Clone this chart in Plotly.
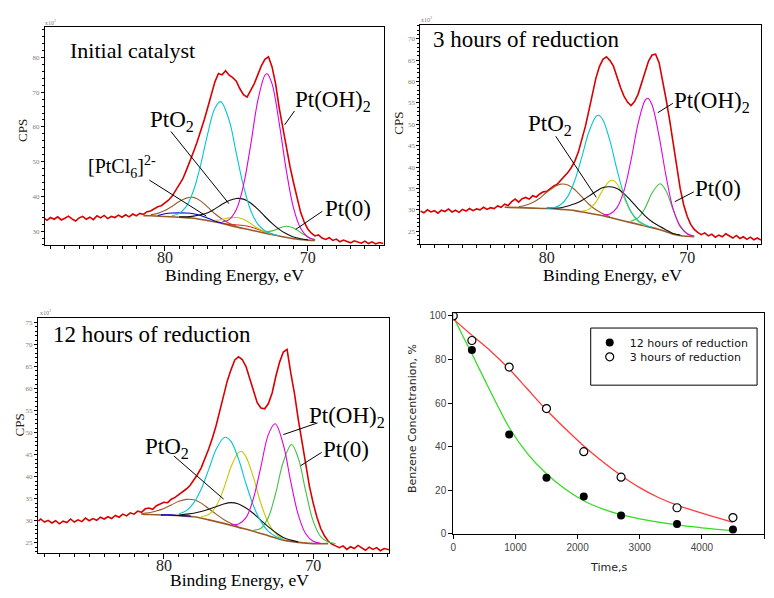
import plotly.graph_objects as go

W, H = 774, 598

# ---------------- Panel 1: Initial catalyst ----------------
p1_energy = [88.4, 88.25, 88.0, 87.75, 87.5, 87.25, 87.0, 86.75, 86.5, 86.25, 86.0, 85.75, 85.5, 85.25, 85.0,
             84.75, 84.5, 84.25, 84.0, 83.75, 83.5, 83.25, 83.0, 82.75, 82.5, 82.25, 82.0, 81.75, 81.5, 81.25,
             81.0, 80.75, 80.5, 80.25, 80.0, 79.75, 79.5, 79.25, 79.0, 78.75, 78.5, 78.25, 78.0, 77.75, 77.5,
             77.25, 77.0, 76.75, 76.5, 76.25, 76.0, 75.75, 75.5, 75.25, 75.0, 74.75, 74.5, 74.25, 74.0, 73.75,
             73.5, 73.25, 73.0, 72.75, 72.5, 72.25, 72.0, 71.75, 71.5, 71.25, 71.0, 70.75, 70.5, 70.25, 70.0,
             69.75, 69.5, 69.25, 69.0, 68.75, 68.5, 68.25, 68.0, 67.75, 67.5, 67.25, 67.0, 66.75, 66.5, 66.25,
             66.0, 65.75, 65.5, 65.25, 65.0, 64.7]
p1_counts = [33.6, 33.1, 33.9, 33.4, 34.1, 33.2, 33.7, 34.3, 33.5, 32.9, 33.8, 34.2, 33.4, 34.0, 33.3,
             34.4, 33.8, 34.5, 33.6, 34.2, 33.9, 34.6, 34.0, 34.7, 34.1, 34.9, 34.4, 35.1, 34.8, 35.6,
             35.8, 36.4, 37.0, 37.3, 38.1, 38.9, 40.0, 41.6, 43.3, 45.0, 47.5, 50.0, 52.8, 55.6, 58.5,
             62.0, 65.6, 69.5, 73.0, 75.4, 75.0, 76.2, 74.9, 74.2, 73.2, 71.0, 69.3, 68.6, 70.3, 72.4,
             75.0, 77.6, 79.5, 80.2, 77.3, 72.4, 65.5, 59.5, 54.0, 48.7, 44.0, 39.3, 35.4, 32.6, 30.6,
             29.4, 28.6, 28.9, 28.0, 27.6, 28.1, 27.3, 27.7, 26.9, 27.4, 27.0, 26.6, 27.2, 26.8, 26.5,
             27.1, 26.4, 26.9, 26.3, 26.7, 26.4]
p1_bg_e = [81.5, 81.0, 80.0, 79.0, 78.0, 77.0, 76.0, 75.0, 74.0, 73.0, 72.0, 71.0, 70.0, 69.5]
p1_bg = [34.45, 34.4, 34.2, 34.0, 33.7, 33.0, 32.2, 31.2, 30.3, 29.4, 28.6, 27.8, 27.4, 27.3]
p1_cyan_e = [79.5, 79.0, 78.5, 78.0, 77.5, 77.0, 76.5, 76.1, 75.5, 75.0, 74.5, 74.0, 73.5, 73.0, 72.5, 72.0]
p1_cyan = [34.4, 35.1, 37.1, 41.6, 49.0, 58.1, 65.4, 67.3, 61.9, 52.4, 43.0, 36.0, 32.0, 30.1, 29.2, 28.6]
p1_magenta_e = [76.0, 75.5, 75.0, 74.5, 74.0, 73.5, 73.0, 72.85, 72.5, 72.0, 71.5, 71.0, 70.5, 70.0, 69.5]
p1_magenta = [32.6, 33.3, 36.2, 43.2, 54.7, 67.5, 74.9, 75.3, 72.4, 61.1, 47.4, 36.7, 30.8, 28.3, 27.5]
p1_black_e = [79.0, 78.5, 78.0, 77.5, 77.0, 76.5, 76.0, 75.5, 75.0, 74.5, 74.0, 73.5, 73.0, 72.5, 72.0,
              71.5, 71.0, 70.5, 70.0]
p1_black = [34.1, 34.1, 34.3, 34.7, 35.3, 36.4, 37.7, 38.8, 39.4, 39.2, 38.1, 36.3, 34.2, 32.2, 30.5,
            29.2, 28.3, 27.8, 27.5]
p1_brown_e = [81.0, 80.5, 80.0, 79.5, 79.0, 78.5, 78.0, 77.5, 77.0, 76.5, 76.0, 75.5, 75.0]
p1_brown = [34.7, 35.1, 35.9, 37.1, 38.5, 39.5, 39.7, 38.7, 36.9, 35.0, 33.5, 32.25, 31.4]
p1_yellow_e = [76.5, 76.0, 75.5, 75.0, 74.5, 74.0, 73.5, 73.0, 72.5]
p1_yellow = [33.1, 33.35, 33.8, 33.9, 33.4, 32.2, 30.8, 29.8, 29.1]
p1_green_e = [73.0, 72.5, 72.0, 71.5, 71.0, 70.5, 70.0, 69.5]
p1_green = [29.75, 30.05, 30.85, 31.4, 30.9, 29.6, 28.3, 27.55]
p1_blue_e = [80.5, 80.0, 79.5, 79.0, 78.5, 78.0, 77.5, 77.0, 76.5, 76.0]
p1_blue = [34.5, 35.0, 35.2, 35.25, 35.2, 35.0, 34.5, 33.7, 32.9, 32.3]
p1_redc_e = [76.0, 75.5, 75.0, 74.5, 74.0, 73.5, 73.0, 72.5]
p1_redc = [32.3, 31.95, 31.8, 31.6, 31.2, 30.5, 29.8, 29.1]

# ---------------- Panel 2: 3 hours of reduction ----------------
p2_energy = [89.0, 88.75, 88.5, 88.25, 88.0, 87.75, 87.5, 87.25, 87.0, 86.75, 86.5, 86.25, 86.0, 85.75, 85.5,
             85.25, 85.0, 84.75, 84.5, 84.25, 84.0, 83.75, 83.5, 83.25, 83.0, 82.75, 82.5, 82.25, 82.0, 81.75,
             81.5, 81.25, 81.0, 80.75, 80.5, 80.25, 80.0, 79.75, 79.5, 79.25, 79.0, 78.75, 78.5, 78.25, 78.0,
             77.75, 77.5, 77.25, 77.0, 76.75, 76.5, 76.25, 76.0, 75.75, 75.5, 75.25, 75.0, 74.75, 74.5, 74.25,
             74.0, 73.75, 73.5, 73.25, 73.0, 72.75, 72.5, 72.25, 72.0, 71.75, 71.5, 71.25, 71.0, 70.75, 70.5,
             70.25, 70.0, 69.75, 69.5, 69.25, 69.0, 68.75, 68.5, 68.25, 68.0, 67.75, 67.5, 67.25, 67.0, 66.75,
             66.5, 66.25, 66.0, 65.75, 65.5, 65.25, 65.0, 64.75]
p2_counts = [29.7, 29.3, 30.0, 29.5, 29.8, 29.2, 29.9, 29.6, 30.2, 29.5, 29.9, 29.4, 30.1, 29.7, 30.3,
             29.8, 30.2, 30.0, 30.6, 30.1, 30.5, 30.3, 30.9, 30.6, 31.3, 31.0, 31.9, 32.5, 31.8, 32.6,
             32.9, 32.5, 33.3, 33.0, 33.7, 34.2, 34.3, 35.0, 35.6, 36.0, 36.9, 37.6, 38.7, 39.9, 41.4,
             43.5, 46.2, 49.5, 53.2, 57.2, 60.8, 63.5, 65.2, 65.8, 64.9, 63.6, 61.0, 58.6, 56.6, 55.2,
             54.4, 55.3, 57.0, 59.5, 62.3, 64.8, 66.2, 66.4, 64.4, 60.5, 55.8, 51.0, 45.8, 40.3, 35.0,
             31.2, 28.5, 26.6, 25.4, 24.7, 24.2, 24.6, 23.9, 24.3, 23.6, 24.1, 23.7, 24.4, 23.8, 23.4,
             24.0, 23.3, 23.7, 23.1, 23.6, 23.0, 23.4, 22.9]
p2_bg_e = [83.0, 82.0, 81.0, 80.0, 79.0, 78.0, 77.0, 76.0, 75.0, 74.0, 73.0, 72.0, 71.0, 70.0, 69.5]
p2_bg = [30.6, 30.5, 30.4, 30.3, 30.1, 29.8, 29.2, 28.6, 27.8, 27.0, 26.2, 25.4, 24.3, 23.8, 23.7]
p2_cyan_e = [80.0, 79.5, 79.0, 78.5, 78.0, 77.5, 77.0, 76.5, 76.3, 76.0, 75.5, 75.0, 74.5, 74.0, 73.5, 73.0, 72.5]
p2_cyan = [30.4, 30.5, 31.25, 33.15, 36.9, 42.4, 48.2, 51.8, 52.1, 51.0, 46.1, 39.4, 33.5, 29.6, 27.5, 26.5, 25.9]
p2_magenta_e = [76.0, 75.5, 75.0, 74.5, 74.0, 73.5, 73.0, 72.8, 72.5, 72.0, 71.5, 71.0, 70.5, 70.0, 69.5]
p2_magenta = [28.8, 29.0, 30.5, 34.5, 41.6, 50.1, 55.6, 56.1, 54.5, 47.2, 37.8, 30.2, 26.1, 24.4, 23.8]
p2_yellow_e = [77.5, 77.0, 76.5, 76.0, 75.5, 75.3, 75.0, 74.5, 74.0, 73.5, 73.0]
p2_yellow = [29.7, 30.1, 31.8, 34.7, 36.8, 36.9, 36.1, 32.8, 29.4, 27.3, 26.3]
p2_black_e = [80.0, 79.5, 79.0, 78.5, 78.0, 77.5, 77.0, 76.5, 76.0, 75.5, 75.0, 74.5, 74.0, 73.5, 73.0,
              72.5, 72.0, 71.5, 71.0, 70.5]
p2_black = [30.4, 30.4, 30.5, 30.9, 31.4, 32.2, 33.2, 34.3, 35.2, 35.4, 35.0, 33.8, 32.1, 30.3, 28.6,
            27.2, 26.2, 25.3, 24.45, 24.1]
p2_brown_e = [82.0, 81.5, 81.0, 80.5, 80.0, 79.5, 79.0, 78.5, 78.0, 77.5, 77.0, 76.5, 76.0, 75.5]
p2_brown = [30.7, 31.05, 31.7, 32.7, 34.1, 35.3, 36.0, 35.8, 34.7, 33.0, 31.3, 30.0, 29.1, 28.4]
p2_green_e = [74.0, 73.5, 73.0, 72.5, 72.0, 71.9, 71.5, 71.0, 70.5, 70.0, 69.5]
p2_green = [27.35, 28.1, 30.4, 33.95, 36.0, 36.1, 34.4, 30.0, 26.3, 24.4, 23.8]

# ---------------- Panel 3: 12 hours of reduction ----------------
p3_energy = [88.4, 88.25, 88.0, 87.75, 87.5, 87.25, 87.0, 86.75, 86.5, 86.25, 86.0, 85.75, 85.5, 85.25, 85.0,
             84.75, 84.5, 84.25, 84.0, 83.75, 83.5, 83.25, 83.0, 82.75, 82.5, 82.25, 82.0, 81.75, 81.5, 81.25,
             81.0, 80.75, 80.5, 80.25, 80.0, 79.75, 79.5, 79.25, 79.0, 78.75, 78.5, 78.25, 78.0, 77.75, 77.5,
             77.25, 77.0, 76.75, 76.5, 76.25, 76.0, 75.75, 75.5, 75.25, 75.0, 74.75, 74.5, 74.25, 74.0, 73.75,
             73.5, 73.25, 73.0, 72.75, 72.5, 72.25, 72.0, 71.75, 71.5, 71.25, 71.0, 70.75, 70.5, 70.25, 70.0,
             69.75, 69.5, 69.25, 69.0, 68.75, 68.5, 68.25, 68.0, 67.75, 67.5, 67.25, 67.0, 66.75, 66.5, 66.25,
             66.0, 65.75, 65.5, 65.25, 64.9]
p3_counts = [29.9, 30.4, 29.7, 30.1, 29.5, 30.0, 29.3, 29.9, 29.6, 30.4, 29.7, 30.2, 29.8, 30.6, 30.0,
             30.5, 30.1, 30.8, 30.4, 30.9, 30.5, 31.2, 30.8, 31.5, 31.1, 31.8, 31.5, 32.2, 31.9, 32.7,
             32.9, 32.6, 33.4, 33.9, 34.2, 34.1, 34.9, 35.3, 35.9, 36.4, 37.2, 38.0, 39.2, 40.5, 42.0,
             44.0, 46.3, 48.8, 51.6, 55.0, 58.5, 61.8, 64.3, 66.5, 67.2, 66.6, 65.0, 62.3, 59.2, 56.8,
             55.6, 55.4, 56.6, 59.0, 62.8, 66.0, 68.3, 68.9, 63.5, 58.8, 53.0, 47.6, 42.5, 37.8, 34.0,
             30.8, 28.3, 26.6, 25.4, 24.7, 24.3, 23.9, 24.3, 23.5, 24.1, 23.7, 24.4, 23.8, 23.3, 24.0,
             23.5, 23.9, 23.2, 23.7, 23.4]
p3_bg_e = [81.5, 81.0, 80.0, 79.0, 78.0, 77.0, 76.0, 75.0, 74.0, 73.0, 72.0, 71.0, 70.0, 69.0]
p3_bg = [31.5, 31.4, 31.3, 31.15, 30.9, 30.2, 29.4, 28.5, 27.6, 26.6, 25.6, 25.1, 24.8, 24.8]
p3_cyan_e = [79.0, 78.5, 78.0, 77.5, 77.0, 76.5, 76.0, 75.8, 75.5, 75.0, 74.5, 74.0, 73.5, 73.0, 72.5, 72.0]
p3_cyan = [31.55, 32.3, 34.05, 37.2, 41.6, 46.2, 48.8, 48.9, 48.0, 44.0, 38.4, 33.4, 29.8, 27.6, 26.4, 25.7]
p3_yellow_e = [77.5, 77.0, 76.5, 76.0, 75.5, 75.0, 74.8, 74.5, 74.0, 73.5, 73.0, 72.5, 72.0]
p3_yellow = [30.9, 31.4, 33.3, 37.2, 42.25, 45.5, 45.7, 44.5, 39.8, 33.9, 29.5, 27.0, 25.8]
p3_black_e = [79.0, 78.5, 78.0, 77.5, 77.0, 76.5, 76.0, 75.5, 75.0, 74.5, 74.0, 73.5, 73.0, 72.5, 72.0, 71.5, 71.0]
p3_black = [31.3, 31.5, 31.7, 32.1, 32.6, 33.2, 33.8, 34.1, 33.8, 32.9, 31.65, 30.1, 28.6, 27.3, 26.2, 25.6, 25.2]
p3_brown_e = [81.5, 81.0, 80.5, 80.0, 79.5, 79.0, 78.5, 78.0, 77.5, 77.0, 76.5, 76.0, 75.5, 75.0]
p3_brown = [31.65, 31.8, 32.2, 32.8, 33.6, 34.4, 34.85, 34.75, 34.0, 32.75, 31.5, 30.3, 29.4, 28.7]
p3_magenta_e = [75.5, 75.0, 74.5, 74.0, 73.5, 73.0, 72.55, 72.0, 71.5, 71.0, 70.5, 70.0, 69.5]
p3_magenta = [29.1, 29.25, 30.7, 35.1, 42.3, 49.6, 52.0, 47.25, 38.8, 31.35, 27.05, 25.35, 24.9]
p3_green_e = [74.0, 73.5, 73.0, 72.5, 72.0, 71.45, 71.0, 70.5, 70.0, 69.5, 69.0, 68.5]
p3_green = [27.85, 28.3, 30.8, 36.4, 43.4, 47.3, 44.2, 36.7, 29.9, 26.4, 25.15, 24.85]
p3_blue_e = [80.2, 79.5, 79.0, 78.5, 78.2]
p3_blue = [31.3, 31.3, 31.2, 31.1, 31.05]

# ---------------- Panel 4: benzene conversion ----------------
time_s = [0, 300, 900, 1500, 2100, 2700, 3600, 4500]
conc_12h = [100, 84.3, 45.6, 25.8, 17.1, 8.4, 4.5, 2.0]
conc_3h = [100, 88.7, 76.5, 57.5, 37.7, 26.0, 12.0, 7.5]
fit12_t = [0, 150, 300, 500, 700, 900, 1200, 1500, 1800, 2100, 2400, 2700, 3000, 3600, 4000, 4500]
fit12_c = [99.7, 91.0, 82.6, 71.0, 59.6, 48.8, 36.6, 27.6, 20.6, 15.2, 11.5, 8.8, 6.9, 4.1, 2.8, 1.5]
fit3_t = [0, 300, 600, 900, 1200, 1500, 1800, 2100, 2400, 2700, 3000, 3300, 3600, 4000, 4500]
fit3_c = [98.6, 91.1, 83.9, 75.6, 66.2, 56.8, 48.3, 40.3, 33.2, 26.8, 21.2, 16.7, 13.2, 9.5, 5.3]

# ---------------- styles ----------------
RED = '#d80000'
CYAN = '#00c8d0'
MAGENTA = '#e000e0'
BLACK = '#101010'
BROWN = '#9a5a28'
YELLOW = '#c8c800'
GREEN = '#40c040'
BLUE = '#0000d0'
SERIF = 'Liberation Serif'

fig = go.Figure()


def line(x, y, color, width, ax, shape='spline'):
    xa = 'x' if ax == 1 else 'x%d' % ax
    ya = 'y' if ax == 1 else 'y%d' % ax
    fig.add_trace(go.Scatter(x=x, y=y, mode='lines', xaxis=xa, yaxis=ya, showlegend=False,
                             hoverinfo='skip', line=dict(color=color, width=width, shape=shape)))


# panel 1
line(p1_energy, p1_counts, RED, 1.6, 1, 'linear')
line(p1_bg_e, p1_bg, BROWN, 1.6, 1)
line(p1_blue_e, p1_blue, BLUE, 1.1, 1)
line(p1_redc_e, p1_redc, RED, 0.9, 1)
line(p1_brown_e, p1_brown, BROWN, 1.1, 1)
line(p1_yellow_e, p1_yellow, YELLOW, 1.1, 1)
line(p1_green_e, p1_green, GREEN, 1.1, 1)
line(p1_black_e, p1_black, BLACK, 1.1, 1)
line(p1_cyan_e, p1_cyan, CYAN, 1.1, 1)
line(p1_magenta_e, p1_magenta, MAGENTA, 1.1, 1)
# panel 2
line(p2_energy, p2_counts, RED, 1.6, 2, 'linear')
line(p2_bg_e, p2_bg, BROWN, 1.6, 2)
line(p2_brown_e, p2_brown, BROWN, 1.1, 2)
line(p2_yellow_e, p2_yellow, YELLOW, 1.1, 2)
line(p2_green_e, p2_green, GREEN, 1.1, 2)
line(p2_black_e, p2_black, BLACK, 1.1, 2)
line(p2_cyan_e, p2_cyan, CYAN, 1.1, 2)
line(p2_magenta_e, p2_magenta, MAGENTA, 1.1, 2)
# panel 3
line(p3_energy, p3_counts, RED, 1.6, 3, 'linear')
line(p3_bg_e, p3_bg, BROWN, 1.6, 3)
line(p3_blue_e, p3_blue, BLUE, 1.3, 3)
line(p3_brown_e, p3_brown, BROWN, 1.1, 3)
line(p3_yellow_e, p3_yellow, YELLOW, 1.1, 3)
line(p3_green_e, p3_green, GREEN, 1.1, 3)
line(p3_black_e, p3_black, BLACK, 1.1, 3)
line(p3_cyan_e, p3_cyan, CYAN, 1.1, 3)
line(p3_magenta_e, p3_magenta, MAGENTA, 1.1, 3)
# panel 4
line(fit12_t, fit12_c, '#33dd22', 1.3, 4)
line(fit3_t, fit3_c, '#ff3b3b', 1.3, 4)
fig.add_trace(go.Scatter(x=time_s, y=conc_12h, mode='markers', xaxis='x4', yaxis='y4',
                         name='12 hours of reduction', legend='legend',
                         marker=dict(symbol='circle', size=8, color='black')))
fig.add_trace(go.Scatter(x=time_s, y=conc_3h, mode='markers', xaxis='x4', yaxis='y4',
                         name='3 hours of reduction', legend='legend2',
                         marker=dict(symbol='circle', size=8, color='white',
                                     line=dict(color='black', width=1.2))))


def px(v):
    return v / W


def py(v):
    return 1 - v / H


def xps_x(dom, rng):
    return dict(domain=dom, range=rng, showline=True, mirror=True, linecolor='black', linewidth=1,
                ticks='outside', tickvals=[80, 70], ticklen=5, tickcolor='black',
                ticklabelstandoff=-7,
                tickfont=dict(family=SERIF, size=16, color='#222'),
                minor=dict(dtick=1, tick0=0, ticks='outside', ticklen=3, tickcolor='black'),
                showgrid=False, zeroline=False, fixedrange=True)


def xps_y(dom, rng, dt, mdt):
    return dict(domain=dom, range=rng, showline=True, mirror=True, linecolor='black', linewidth=1,
                ticks='outside', dtick=dt, tick0=0, ticklen=3, tickcolor='black',
                tickfont=dict(family=SERIF, size=7, color='#8c7b70'),
                minor=dict(dtick=mdt, tick0=0, ticks='outside', ticklen=2, tickcolor='black'),
                showgrid=False, zeroline=False, fixedrange=True)


LEG_FONT = dict(family='DejaVu Sans', size=11, color='#111')

fig.update_layout(
    width=W, height=H, margin=dict(l=0, r=0, t=0, b=0),
    paper_bgcolor='white', plot_bgcolor='white', showlegend=True,
    xaxis=dict(xps_x([px(42), px(382)], [88.4, 64.7]), anchor='y'),
    yaxis=dict(xps_y([py(246), py(24)], [25.9, 88.9], 10, 2), anchor='x'),
    xaxis2=dict(xps_x([px(419), px(761)], [89.0, 64.74]), anchor='y2'),
    yaxis2=dict(xps_y([py(245), py(22)], [21.93, 73.3], 5, 1), anchor='x2'),
    xaxis3=dict(xps_x([px(35), px(388)], [88.44, 64.89]), anchor='y3'),
    yaxis3=dict(xps_y([py(558), py(320)], [22.77, 75.97], 5, 1), anchor='x3'),
    xaxis4=dict(domain=[px(452), px(764)], range=[0, 5000], dtick=1000, anchor='y4',
                showline=True, mirror=True, linecolor='black', linewidth=1, ticks='outside',
                ticklen=4, tickcolor='black', showgrid=False, zeroline=False,
                tickfont=dict(family='Liberation Sans', size=10, color='#444')),
    yaxis4=dict(domain=[py(539), py(315)], range=[0, 101.2], dtick=20, anchor='x4',
                showline=True, mirror=True, linecolor='black', linewidth=1, ticks='outside',
                ticklen=4, tickcolor='black', showgrid=False, zeroline=False,
                tickfont=dict(family='Liberation Sans', size=10, color='#444')),
    legend=dict(x=px(589), y=py(330), xanchor='left', yanchor='top', bgcolor='rgba(0,0,0,0)',
                borderwidth=0, font=LEG_FONT),
    legend2=dict(x=px(589), y=py(344.5), xanchor='left', yanchor='top', bgcolor='rgba(0,0,0,0)',
                 borderwidth=0, font=LEG_FONT),
)

# legend frame
fig.add_shape(type='rect', xref='paper', yref='paper', x0=px(590), x1=px(757), y0=py(388), y1=py(330),
              line=dict(color='black', width=1), fillcolor='rgba(0,0,0,0)')

ann = []


def label(text, x, y, ax, size=22, anchor='left'):
    xa = 'x' if ax == 1 else 'x%d' % ax
    ya = 'y' if ax == 1 else 'y%d' % ax
    ann.append(dict(text=text, x=x, y=y, xref=xa, yref=ya, xanchor=anchor, yanchor='middle',
                    showarrow=False, font=dict(family=SERIF, size=size, color='black')))


def leader(x0, y0, x1, y1, ax):
    xa = 'x' if ax == 1 else 'x%d' % ax
    ya = 'y' if ax == 1 else 'y%d' % ax
    fig.add_shape(type='line', xref=xa, yref=ya, x0=x0, y0=y0, x1=x1, y1=y1,
                  line=dict(color='black', width=1))


# panel 1 labels
label('Initial catalyst', 82.27, 82.1, 1, 22, 'center')
label('Pt(OH)<sub>2</sub>', 71.0, 67.4, 1, 23)
label('PtO<sub>2</sub>', 81.2, 61.7, 1, 23)
label('[PtCl<sub>6</sub>]<sup>2-</sup>', 85.5, 48.6, 1, 20)
label('Pt(0)', 68.9, 36.6, 1, 23)
leader(70.93, 64.6, 71.62, 60.6, 1)
leader(79.58, 58.7, 75.52, 37.9, 1)
leader(81.09, 44.7, 77.1, 34.3, 1)
leader(68.98, 35.7, 70.84, 30.5, 1)
# panel 2 labels
label('3 hours of reduction', 88.25, 69.86, 2, 23)
label('Pt(OH)<sub>2</sub>', 71.1, 55.3, 2, 23)
label('PtO<sub>2</sub>', 81.45, 49.9, 2, 23)
label('Pt(0)', 69.6, 34.97, 2, 23)
leader(71.02, 54.9, 72.1, 52.7, 2)
leader(79.36, 47.2, 76.47, 32.9, 2)
leader(69.53, 34.2, 70.88, 31.9, 2)
# panel 3 labels
label('12 hours of reduction', 87.56, 72.25, 3, 23)
label('Pt(OH)<sub>2</sub>', 70.4, 53.6, 3, 23)
label('Pt(0)', 69.5, 46.2, 3, 23)
label('PtO<sub>2</sub>', 81.4, 46.6, 3, 23)
leader(69.71, 52.2, 72.0, 49.55, 3)
leader(69.44, 45.5, 70.84, 42.5, 3)
leader(79.33, 44.7, 76.0, 34.9, 3)


def ptext(text, x, y, size, family=SERIF, angle=0, color='black'):
    ann.append(dict(text=text, x=px(x), y=py(y), xref='paper', yref='paper', xanchor='center',
                    yanchor='middle', showarrow=False, textangle=angle,
                    font=dict(family=family, size=size, color=color)))


ptext('Binding Energy, eV', 232, 276, 17.5)
ptext('Binding Energy, eV', 612, 276, 17.5)
ptext('Binding Energy, eV', 237, 586, 17.5)
ptext('CPS', 19, 129, 13, angle=-90, color='#2a1a10')
ptext('CPS', 397, 122, 13, angle=-90, color='#2a1a10')
ptext('CPS', 17, 428, 13, angle=-90, color='#2a1a10')
ptext('x10<sup>2</sup>', 48, 19, 6, color='#8c7b70')
ptext('x10<sup>2</sup>', 425, 16, 6, color='#8c7b70')
ptext('x10<sup>2</sup>', 43, 314, 6, color='#8c7b70')
ptext('Time,s', 608, 573, 11, family='DejaVu Sans', color='#222')
ptext('Benzene Concentranion, %', 411, 422, 11, family='DejaVu Sans', angle=-90, color='#222')

fig.update_layout(annotations=ann)

fig.write_html('out.html', config={'displayModeBar': False},
               post_script="document.body.style.margin='0';document.body.style.overflow='hidden';")
